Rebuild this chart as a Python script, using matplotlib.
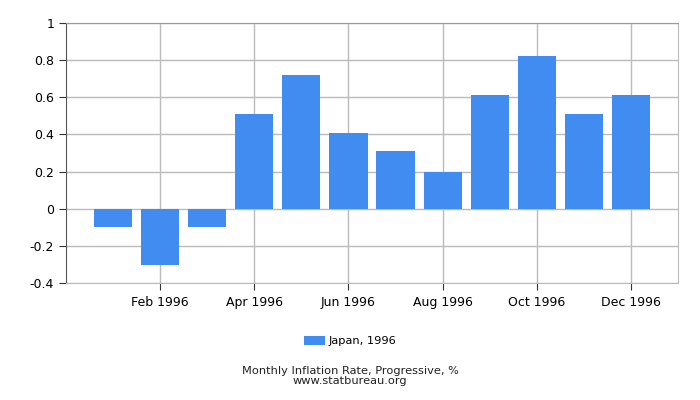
import matplotlib
matplotlib.use("Agg")
import matplotlib.pyplot as plt

# Japan monthly inflation, 1996 (%)
months = ["Jan 1996", "Feb 1996", "Mar 1996", "Apr 1996", "May 1996", "Jun 1996",
          "Jul 1996", "Aug 1996", "Sep 1996", "Oct 1996", "Nov 1996", "Dec 1996"]
values = [-0.1, -0.3, -0.1, 0.51, 0.72, 0.41, 0.31, 0.2, 0.61, 0.82, 0.51, 0.61]
yticks = [-0.4, -0.2, 0, 0.2, 0.4, 0.6, 0.8, 1]
ytick_labels = ["-0.4", "-0.2", "0", "0.2", "0.4", "0.6", "0.8", "1"]

fig = plt.figure(figsize=(7, 4), dpi=100)
ax = fig.add_axes([66 / 700, (400 - 283.3) / 400, (678 - 66) / 700, (283.3 - 22.7) / 400])

x = list(range(len(months)))
ax.bar(x, values, width=0.81, color="#418cf0", label="Japan, 1996", zorder=3)

ax.set_xlim(-1, 12)
ax.set_ylim(-0.4, 1)
ax.set_yticks(yticks)
ax.set_yticklabels(ytick_labels)
ax.set_xticks(x[1::2])
ax.set_xticklabels(months[1::2])

ax.grid(True, color="#bbbbbb", linewidth=1, zorder=0)
for side in ["top", "right", "bottom"]:
    ax.spines[side].set_color("#bbbbbb")
ax.spines["top"].set_color("#999999")
ax.spines["left"].set_color("#555555")
ax.tick_params(axis="both", labelsize=9, color="#333333", length=5)
ax.tick_params(axis="x", pad=4)

fig.legend(loc="center", bbox_to_anchor=(0.5, (400 - 341) / 400), frameon=False,
           fontsize=8.2, handlelength=1.9, handleheight=0.8, handletextpad=0.3)
fig.text(0.5, (400 - 371) / 400, "Monthly Inflation Rate, Progressive, %",
         ha="center", va="center", fontsize=8.2, color="#222222")
fig.text(0.5, (400 - 381) / 400, "www.statbureau.org",
         ha="center", va="center", fontsize=8.2, color="#222222")

fig.savefig("out.png", dpi=100)
